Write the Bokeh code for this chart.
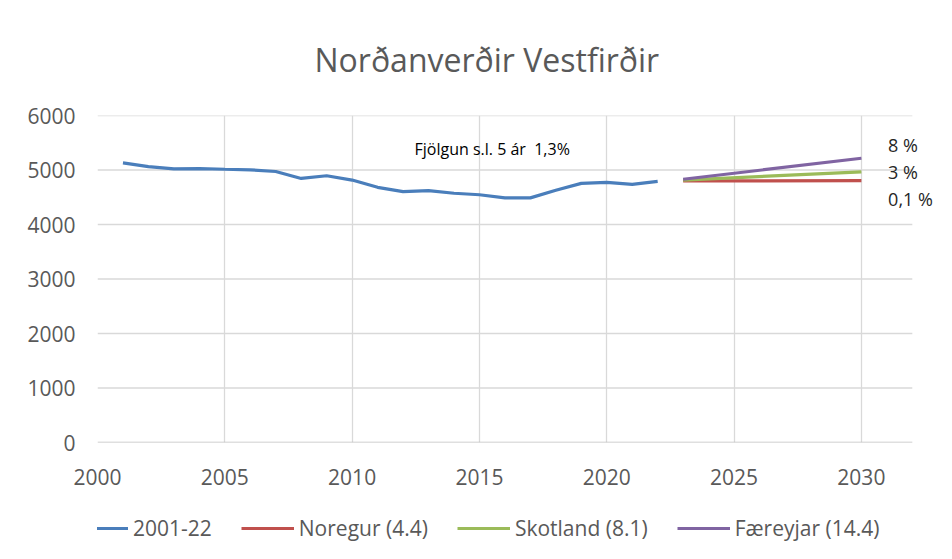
from bokeh.plotting import figure
from bokeh.layouts import column
from bokeh.models import Legend, LegendItem, Label, FixedTicker, Range1d
from bokeh.embed import file_html
from bokeh.resources import INLINE

# ---- data ----
years = list(range(2001, 2023))
population = [5130, 5063, 5021, 5027, 5014, 5003, 4972, 4845, 4894, 4815, 4682,
              4604, 4622, 4573, 4546, 4488, 4488, 4628, 4755, 4772, 4737, 4791]

proj_years = [2023, 2030]
noregur = [4800, 4805]
skotland = [4815, 4965]
faereyjar = [4830, 5215]

series_names = ["2001-22", "Noregur (4.4)", "Skotland (8.1)", "Færeyjar (14.4)"]
series_colors = ["#4a7ebb", "#c0504d", "#9bbb59", "#8064a2"]
pct_labels = ["8 %", "3 %", "0,1 %"]
pct_y = [5460, 4955, 4475]
note_text = "Fjölgun s.l. 5 ár\u00a0 1,3%"

x_ticks = [2000, 2005, 2010, 2015, 2020, 2025, 2030]
y_ticks = [0, 1000, 2000, 3000, 4000, 5000, 6000]
x_start, x_end = 2000, 2032

FONT = "Open Sans"
GREY = "#595959"
GRID = "#d9d9d9"

p = figure(width=950, height=500, output_backend="svg", toolbar_location=None,
           x_range=Range1d(2000, 2033.5), y_range=Range1d(0, 6000),
           min_border_left=97, min_border_right=0, min_border_top=113, min_border_bottom=58)

p.title.text = "Norðanverðir Vestfirðir"
p.title.align = "left"
p.title.text_font = FONT
p.title.text_font_size = "32px"
p.title.text_font_style = "normal"
p.title.text_color = GREY
p.title.standoff = 70
p.title.offset = 217

p.outline_line_color = None
p.background_fill_color = "white"
p.border_fill_color = "white"

p.xaxis.ticker = FixedTicker(ticks=x_ticks)
p.yaxis.ticker = FixedTicker(ticks=y_ticks)
p.xgrid.ticker = FixedTicker(ticks=x_ticks)
p.xgrid.grid_line_color = GRID
p.xgrid.grid_line_width = 1.3
p.ygrid.grid_line_color = None

for ax in (p.xaxis, p.yaxis):
    ax.major_tick_line_color = None
    ax.minor_tick_line_color = None
    ax.axis_line_color = None
    ax.major_label_text_font = FONT
    ax.major_label_text_font_size = "21px"
    ax.major_label_text_color = GREY
p.xaxis.major_label_standoff = 20
p.yaxis.major_label_standoff = 16

# horizontal gridlines and baseline limited to the plotting span
grid_y = y_ticks[1:]
p.segment(x0=[x_start] * len(grid_y), y0=grid_y, x1=[x_end] * len(grid_y), y1=grid_y,
          line_color=GRID, line_width=1.3)
p.segment(x0=[x_start], y0=[0], x1=[x_end], y1=[0], line_color="#bfbfbf", line_width=1.6)

p.line(years, population, line_color=series_colors[0], line_width=3.2)
p.line(proj_years, noregur, line_color=series_colors[1], line_width=3.2)
p.line(proj_years, skotland, line_color=series_colors[2], line_width=3.2)
p.line(proj_years, faereyjar, line_color=series_colors[3], line_width=3.2)

p.add_layout(Label(x=2015.5, y=5390, text=note_text, text_font=FONT, text_font_size="16px",
                   text_color="black", text_align="center", text_baseline="middle"))
for t, yy in zip(pct_labels, pct_y):
    p.add_layout(Label(x=2031.05, y=yy, text=t, text_font=FONT, text_font_size="18px",
                       text_color="#262626", text_align="left", text_baseline="middle"))

# ---- legend strip below the chart (series drawn off-range, only used for the legend) ----
lg = figure(width=950, height=57, output_backend="svg", toolbar_location=None,
            x_range=Range1d(0, 1), y_range=Range1d(0, 1),
            x_axis_location=None, y_axis_location=None,
            min_border_left=0, min_border_right=0, min_border_top=0, min_border_bottom=0)
lg.outline_line_color = None
lg.grid.visible = False
lg_renderers = [
    lg.line(years, population, line_color=series_colors[0], line_width=3.2),
    lg.line(proj_years, noregur, line_color=series_colors[1], line_width=3.2),
    lg.line(proj_years, skotland, line_color=series_colors[2], line_width=3.2),
    lg.line(proj_years, faereyjar, line_color=series_colors[3], line_width=3.2),
]
legend = Legend(items=[LegendItem(label=n, renderers=[r]) for n, r in zip(series_names, lg_renderers)],
                orientation="horizontal", location=(-22, 15),
                label_text_font=FONT, label_text_font_size="21px", label_text_color=GREY,
                glyph_width=53, glyph_height=20, label_standoff=5, spacing=29,
                border_line_color=None, background_fill_alpha=0, margin=0, padding=10)
lg.add_layout(legend, "center")

layout = column(p, lg, spacing=0)
open("out.html", "w").write(file_html(layout, INLINE))
